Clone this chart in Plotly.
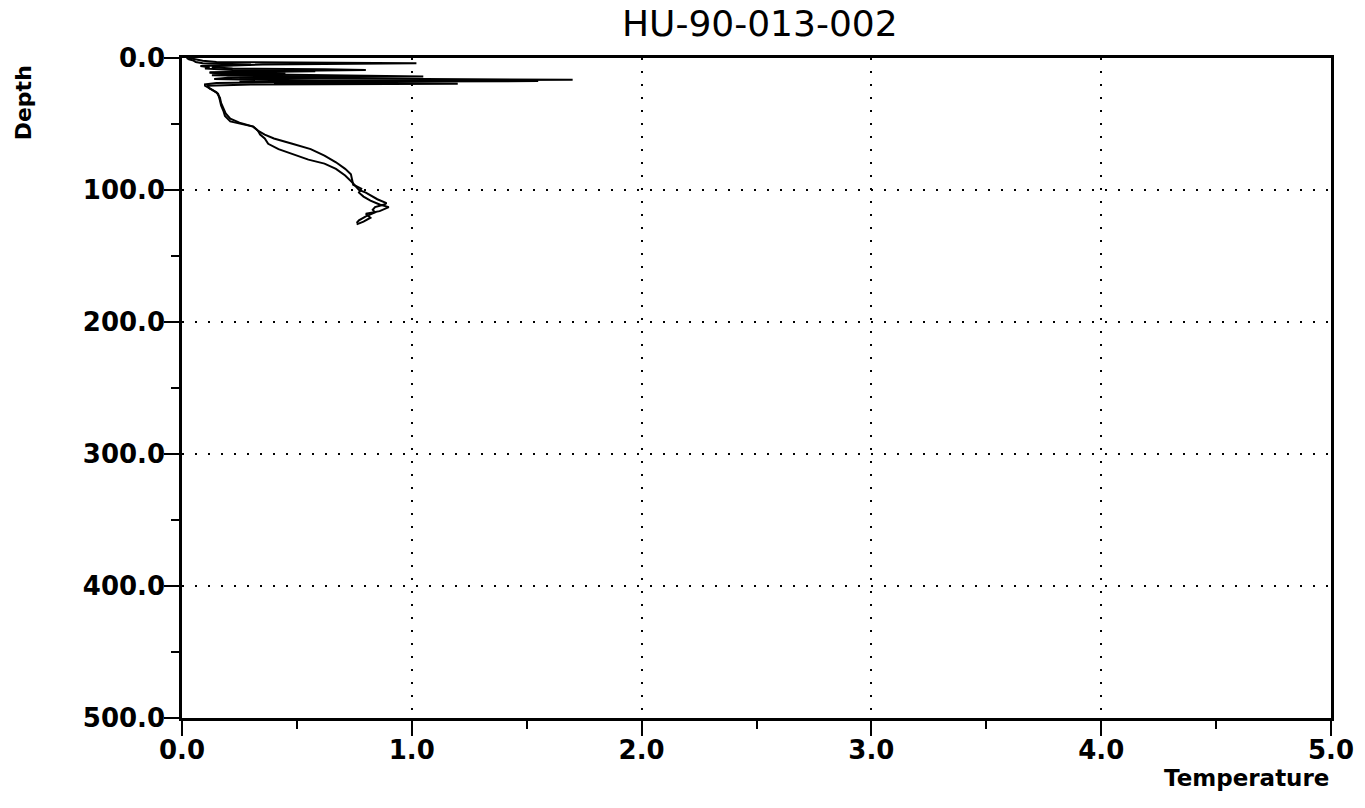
import plotly.graph_objects as go

# Downcast profile (temperature, depth)
down_depth = [0, 1, 2, 3, 3.5, 4, 5, 6, 7, 8, 8.5, 9, 10, 11, 12, 13, 14, 15, 16, 16.5,
              17, 18, 19, 20, 21, 23.5, 27, 32, 36, 40, 44, 48, 50, 52, 55, 58, 61, 65,
              69, 73, 77, 80, 84, 89, 92, 95, 98, 100, 102, 104, 107, 110, 111, 113, 115,
              117, 120, 123, 125]
down_temp = [0.03, 0.06, 0.09, 0.15, 0.75, 1.02, 0.35, 0.16, 0.13, 0.22, 0.62, 0.80, 0.30,
             0.12, 0.18, 0.55, 1.05, 0.25, 1.35, 1.70, 0.95, 0.40, 0.15, 0.10, 0.10, 0.126,
             0.157, 0.165, 0.17, 0.18, 0.187, 0.21, 0.26, 0.31, 0.33, 0.34, 0.36, 0.375,
             0.42, 0.49, 0.55, 0.62, 0.67, 0.71, 0.73, 0.745, 0.76, 0.77, 0.80, 0.82, 0.85,
             0.89, 0.88, 0.84, 0.83, 0.84, 0.80, 0.77, 0.76]

# Upcast profile (temperature, depth)
up_depth = [126, 124, 121, 118, 116, 113, 111, 108, 105, 102, 99, 96, 92, 88, 84, 79, 74,
            69, 65, 61, 58, 55, 52, 49, 46, 42, 38, 34, 30, 26, 23, 21, 20, 19.5, 19, 18.5,
            18, 17.5, 17, 16, 15, 14, 13, 12, 11, 10, 9, 8, 7, 6, 5, 4, 3, 2, 1, 0]
up_temp = [0.76, 0.79, 0.82, 0.80, 0.86, 0.90, 0.86, 0.82, 0.79, 0.77, 0.78, 0.745, 0.74,
           0.735, 0.71, 0.67, 0.62, 0.56, 0.48, 0.40, 0.36, 0.33, 0.31, 0.25, 0.21, 0.19,
           0.18, 0.17, 0.165, 0.15, 0.12, 0.11, 0.30, 1.20, 0.40, 0.90, 0.25, 1.55, 0.60,
           0.14, 0.20, 0.65, 0.13, 0.45, 0.12, 0.58, 0.22, 0.10, 0.12, 0.08, 0.30, 0.09,
           0.06, 0.05, 0.03, 0.02]

x_ticks = [0, 1, 2, 3, 4, 5]
x_labels = ["0.0", "1.0", "2.0", "3.0", "4.0", "5.0"]
y_ticks = [0, 100, 200, 300, 400, 500]
y_labels = ["0.0", "100.0", "200.0", "300.0", "400.0", "500.0"]

title_text = "HU-90-013-002"
x_title = "Temperature"
y_title = "Depth"

fig = go.Figure()
for t, d in [(down_temp, down_depth), (up_temp, up_depth)]:
    fig.add_trace(go.Scatter(x=t, y=d, mode="lines",
                             line=dict(color="black", width=2),
                             showlegend=False, hoverinfo="skip"))

tickfont = dict(family="DejaVu Sans", size=26, color="black", weight="bold")
grid_common = dict(showgrid=True, gridcolor="black", gridwidth=2, griddash="2px,11px",
                   showline=True, linecolor="black", linewidth=2.5, mirror=True,
                   ticks="outside", tickcolor="black", tickwidth=2, ticklen=15,
                   zeroline=False, tickfont=tickfont)

fig.update_xaxes(range=[0, 5], tickvals=x_ticks, ticktext=x_labels,
                 ticklabelstandoff=-8,
                 minor=dict(dtick=0.5, ticks="outside", ticklen=8, tickwidth=2,
                            tickcolor="black", showgrid=False),
                 **grid_common)
fig.update_yaxes(range=[500, 0], tickvals=y_ticks, ticktext=y_labels,
                 ticklabelstandoff=-6,
                 minor=dict(dtick=50, ticks="outside", ticklen=8, tickwidth=2,
                            tickcolor="black", showgrid=False),
                 **grid_common)

fig.add_annotation(text=title_text, xref="paper", yref="paper", x=0.503, y=1,
                   yanchor="middle", yshift=35, showarrow=False,
                   font=dict(family="DejaVu Sans", size=36, color="black"))
fig.add_annotation(text=x_title, xref="paper", yref="paper", x=1, y=0,
                   xanchor="right", yanchor="middle", yshift=-60, showarrow=False,
                   font=dict(family="DejaVu Sans", size=23, color="black", weight="bold"))
fig.add_annotation(text=y_title, xref="paper", yref="paper", x=-0.138, y=0.932,
                   xanchor="center", yanchor="middle", textangle=-90, showarrow=False,
                   font=dict(family="DejaVu Sans", size=22, color="black", weight="bold"))

fig.update_layout(width=1365, height=808, margin=dict(l=182, r=34, t=58, b=90),
                  paper_bgcolor="white", plot_bgcolor="white")

fig.write_html("out.html")
